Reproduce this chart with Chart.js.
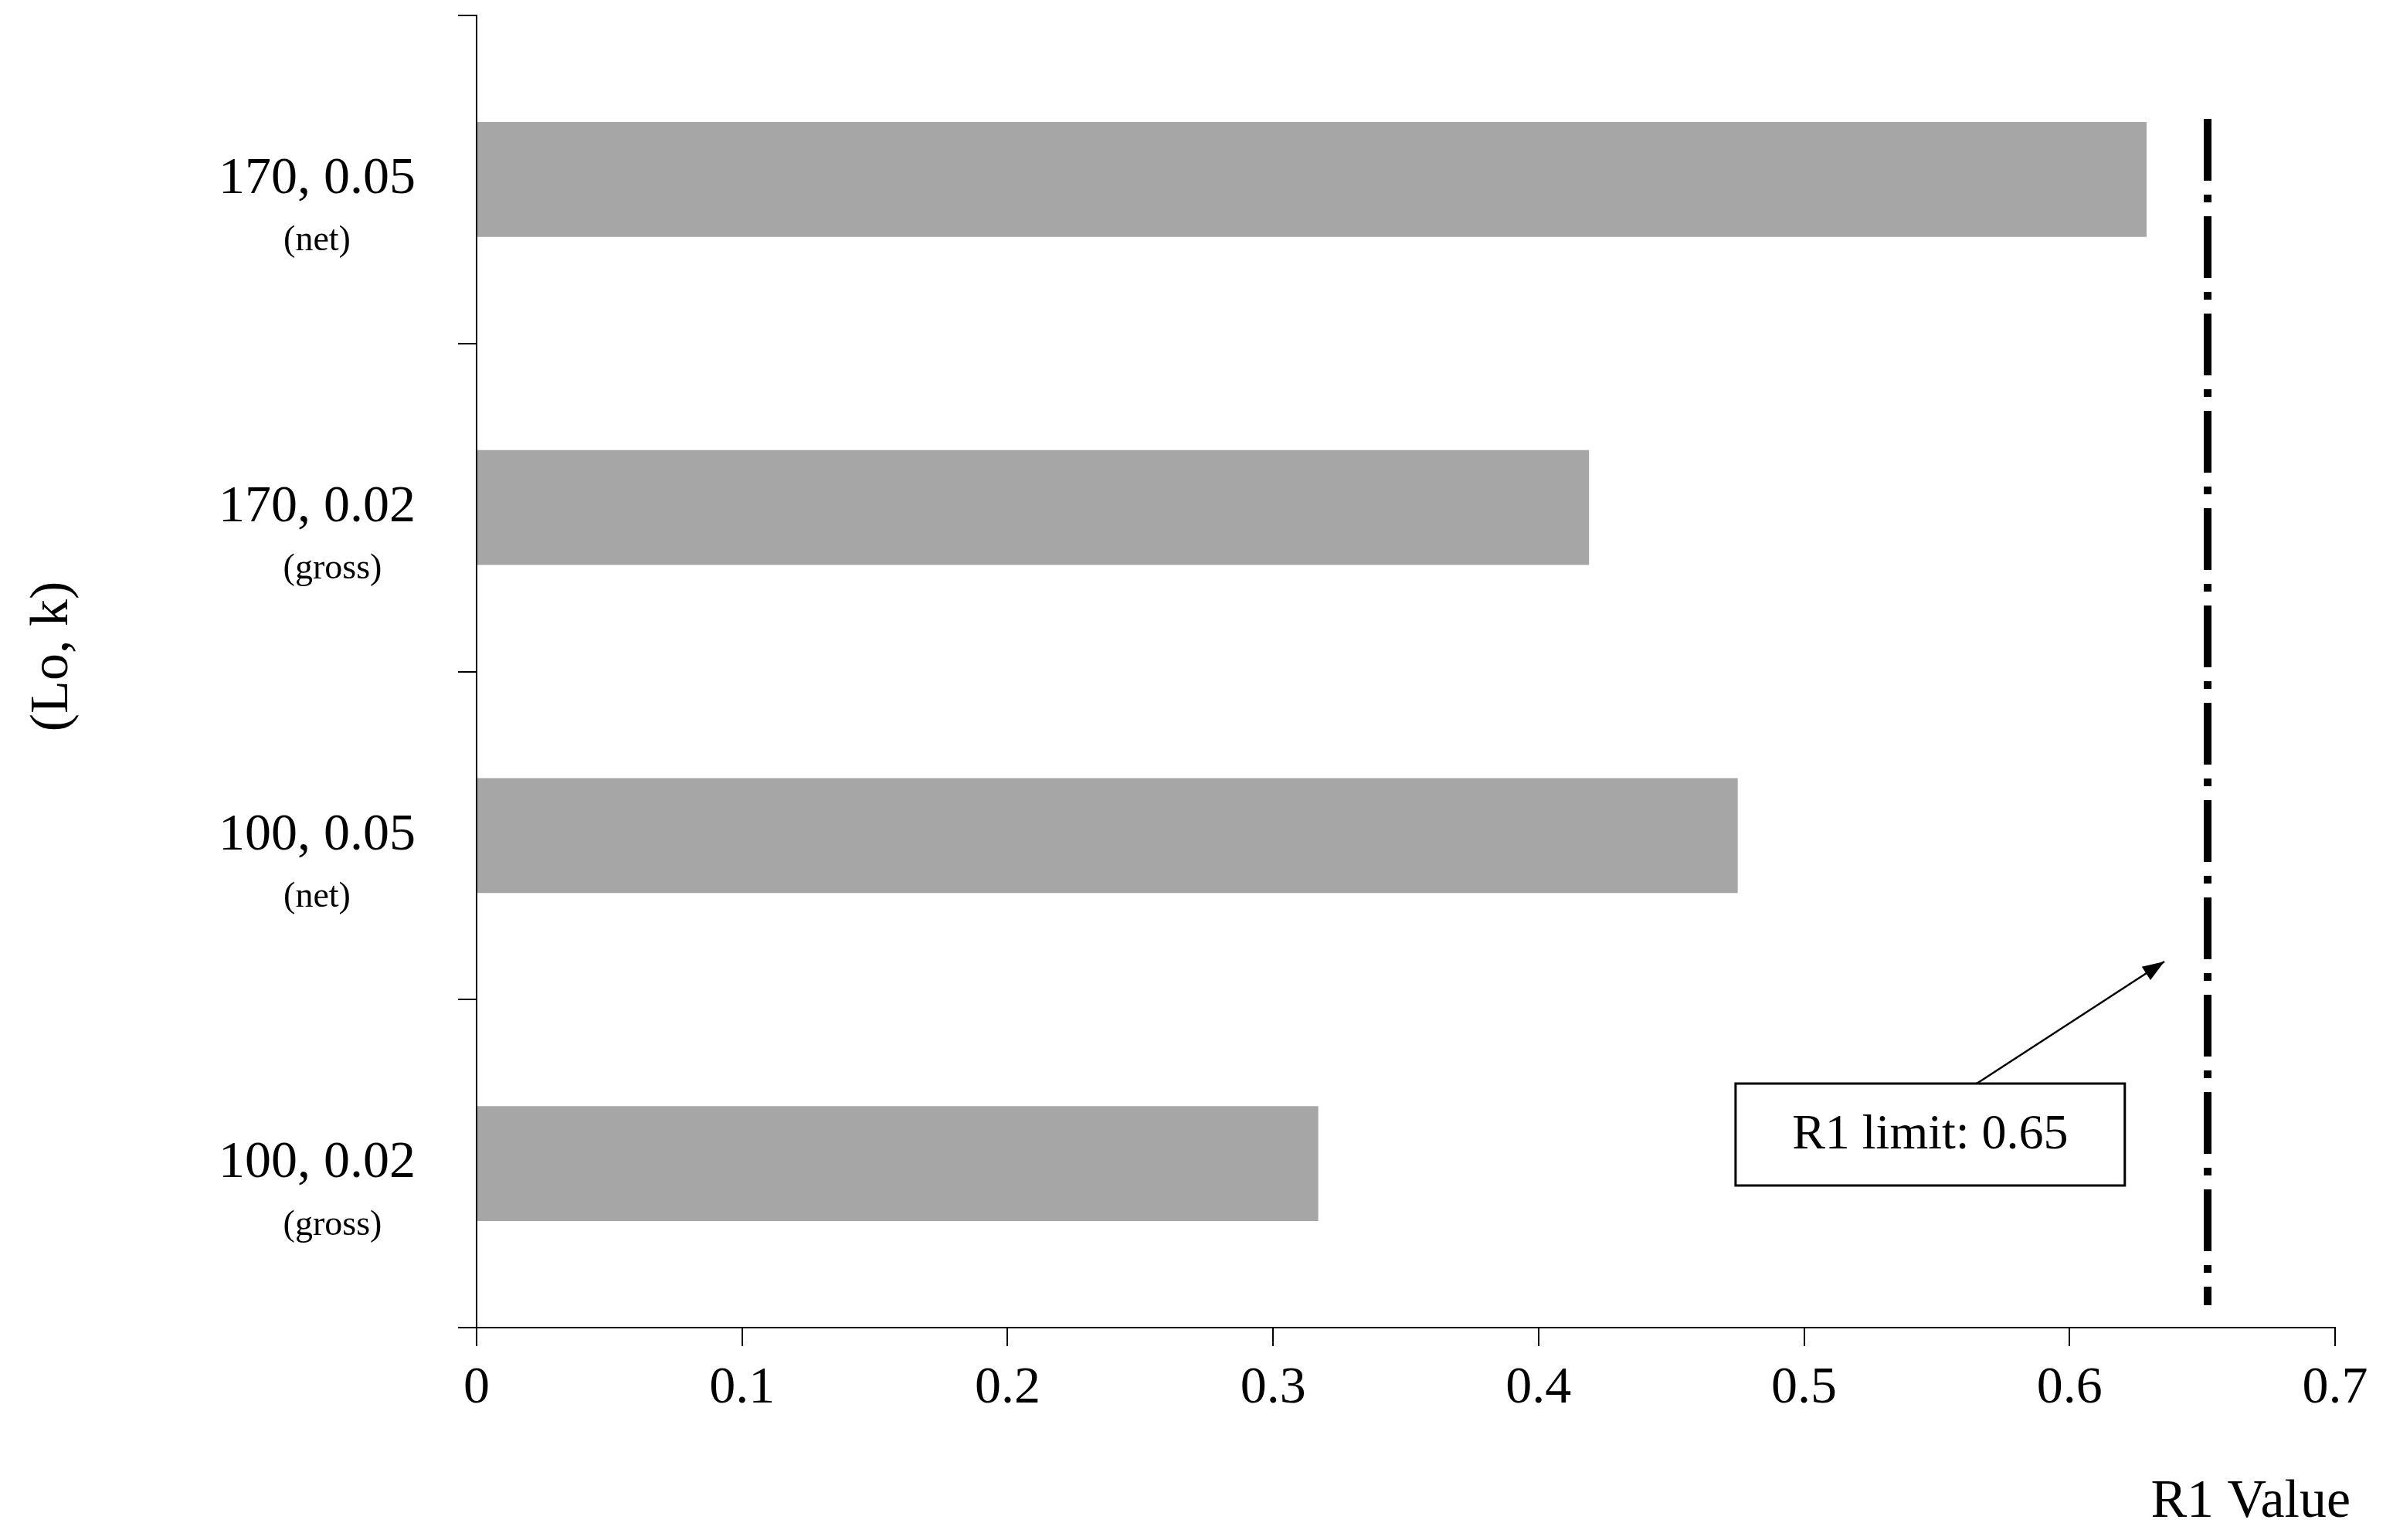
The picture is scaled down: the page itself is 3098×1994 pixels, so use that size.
<!DOCTYPE html>
<html><head><meta charset="utf-8">
<script src="https://cdn.jsdelivr.net/npm/chart.js@4"></script>
<style>html,body{margin:0;padding:0;background:#fff}#c{display:block}</style>
</head><body>
<canvas id="c" width="3098" height="1994"></canvas>
<script>
const categories = ["170, 0.05", "170, 0.02", "100, 0.05", "100, 0.02"];
const subLabels = ["(net)", "(gross)", "(net)", "(gross)"];
const r1Values = [0.629, 0.419, 0.475, 0.317];
const xTicks = [0, 0.1, 0.2, 0.3, 0.4, 0.5, 0.6, 0.7];
const r1Limit = 0.652;
const limitLabel = "R1 limit: 0.65";
const FONT = "'Liberation Serif', 'Times New Roman', serif";

const overlay = {
  id: 'overlay',
  afterDraw(chart) {
    const ctx = chart.ctx, xs = chart.scales.x, ys = chart.scales.y, ca = chart.chartArea;
    ctx.save();
    ctx.fillStyle = '#000'; ctx.textBaseline = 'middle';
    categories.forEach((c, i) => {
      const y = ys.getPixelForValue(i);
      ctx.font = `68px ${FONT}`; ctx.textAlign = 'right';
      const w = ctx.measureText(c).width;
      ctx.fillText(c, 538, y);
      ctx.font = `46px ${FONT}`; ctx.textAlign = 'center';
      ctx.fillText(subLabels[i], 538 - w / 2 + (subLabels[i].length > 5 ? 20 : 0), y + 80);
    });
    // y title
    ctx.save(); ctx.translate(69, 850); ctx.rotate(-Math.PI / 2);
    ctx.font = `70px ${FONT}`; ctx.textAlign = 'center'; ctx.fillText('(Lo, k)', 0, 0); ctx.restore();
    // x title
    ctx.font = `70px ${FONT}`; ctx.textAlign = 'right'; ctx.fillText('R1 Value', 3043, 1946);
    // limit line
    const lx = xs.getPixelForValue(r1Limit);
    ctx.strokeStyle = '#000'; ctx.lineWidth = 10; ctx.setLineDash([80, 18, 10, 18]);
    ctx.beginPath(); ctx.moveTo(lx, 154); ctx.lineTo(lx, 1690); ctx.stroke();
    ctx.setLineDash([]);
    // annotation box
    const bx0 = xs.getPixelForValue(0.4742), bx1 = xs.getPixelForValue(0.6208);
    ctx.lineWidth = 3; ctx.fillStyle = '#fff';
    ctx.fillRect(bx0, 1403, bx1 - bx0, 132); ctx.strokeRect(bx0, 1403, bx1 - bx0, 132);
    ctx.fillStyle = '#000'; ctx.font = `64px ${FONT}`; ctx.textAlign = 'center';
    ctx.fillText(limitLabel, (bx0 + bx1) / 2, 1470);
    // arrow
    const ax0 = 2559, ay0 = 1403, ax1 = 2802, ay1 = 1245;
    ctx.lineWidth = 2.5; ctx.beginPath(); ctx.moveTo(ax0, ay0); ctx.lineTo(ax1, ay1); ctx.stroke();
    const ang = Math.atan2(ay1 - ay0, ax1 - ax0);
    ctx.beginPath(); ctx.moveTo(ax1, ay1);
    ctx.lineTo(ax1 - 30 * Math.cos(ang - 0.35), ay1 - 30 * Math.sin(ang - 0.35));
    ctx.lineTo(ax1 - 30 * Math.cos(ang + 0.35), ay1 - 30 * Math.sin(ang + 0.35));
    ctx.closePath(); ctx.fill();
    ctx.restore();
  }
};

new Chart(document.getElementById('c'), {
  type: 'bar',
  data: { labels: categories, datasets: [{ data: r1Values, backgroundColor: '#a6a6a6', categoryPercentage: 1, barPercentage: 0.35 }] },
  options: {
    indexAxis: 'y', responsive: false, animation: false, devicePixelRatio: 1,
    layout: { padding: { top: 20, right: 75, left: 0, bottom: 0 } },
    plugins: { legend: { display: false }, tooltip: { enabled: false } },
    scales: {
      x: {
        min: 0, max: 0.7,
        afterBuildTicks: s => { s.ticks = xTicks.map(v => ({ value: v })); },
        afterFit: s => { s.height = 275; },
        ticks: { color: '#000', font: { family: FONT, size: 68 }, padding: 14, callback: v => String(v) },
        grid: { drawOnChartArea: false, tickLength: 24, color: '#000', lineWidth: 2 },
        border: { color: '#000', width: 2 }
      },
      y: {
        afterFit: s => { s.width = 617; },
        ticks: { callback: () => '' },
        grid: { offset: true, drawOnChartArea: false, tickLength: 24, color: '#000', lineWidth: 2 },
        border: { color: '#000', width: 2 }
      }
    }
  },
  plugins: [overlay]
});
</script>
</body></html>
